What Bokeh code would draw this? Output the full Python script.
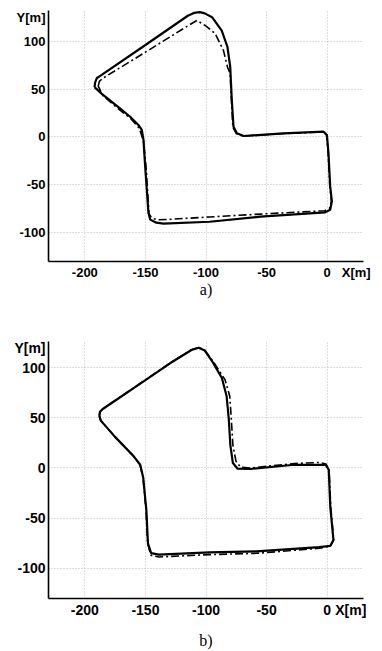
from bokeh.plotting import figure
from bokeh.models import FixedTicker, Range1d
from bokeh.layouts import column
from bokeh.embed import file_html
from bokeh.resources import INLINE

# ---- data (metres) ----
x_ticks = [-200, -150, -100, -50, 0]
y_ticks = [-100, -50, 0, 50, 100]
x_tick_labels = ["-200", "-150", "-100", "-50", "0"]
y_tick_labels = ["-100", "-50", "0", "50", "100"]

# chart a) solid (reference) path
xa_ref = [-192, -191.5, -190, -187, -150, -115, -110, -105, -101, -95, -87, -82.3, -80, -78.7,
          -77.3, -74.5, -69, -36, -3, -0.2, 1.1, 2.5, 3.9, 2.5, -1.7, -55, -97, -135, -141,
          -146, -147.5, -150.2, -151.6, -153, -155.8, -162.6, -171, -186, -192]
ya_ref = [52, 57, 61.5, 64, 96, 126.5, 129.5, 130.3, 129, 125, 111, 94, 73, 38.5,
          10.7, 3.8, 1, 3.8, 5.5, 2.1, -17, -51.6, -67.2, -75.9, -78.7, -83.2, -88.5, -90.4, -89.5,
          -86.3, -79.3, -30.9, -3.1, 7.3, 12.5, 21.1, 29.8, 45, 52]
# chart a) dash-dot (estimated) path
xa_est = [-189, -188, -185.5, -150, -114.5, -107.5, -100.7, -92.4, -85.6, -82.3, -80.1, -79,
          -77.8, -75, -69, -36, -3, -0.5, 0.8, 2.2, 3.5, 2, -2, -55, -97, -130, -140, -145,
          -147, -149.5, -151.6, -153.5, -155, -162, -171, -185, -189]
ya_est = [53, 58, 61, 88.5, 116.4, 121.6, 116.4, 107.8, 90.4, 73.1, 66.2, 38.5,
          10, 3.5, 0.8, 3.6, 5.2, 2, -17, -51.6, -67, -74.5, -77, -80.5, -83.5, -86, -86.5, -84.5,
          -80, -31, -5, 3, 9, 19, 28, 43, 53]

# chart b) solid (reference) path
xb_ref = [-188.1, -187.5, -185.5, -150, -129.7, -112, -106, -101, -94.7, -86.9, -83, -81.2,
          -79.9, -77.8, -73.9, -63.6, -27.2, -1.3, 1.3, 2.6, 5.2, 2.6, -6.5, -58.4, -97.3,
          -138.8, -145.3, -147.9, -149.2, -151.8, -154.3, -159.5, -175.1, -186.8, -188.1]
yb_ref = [52.1, 56, 58.5, 87.5, 104.3, 117.5, 119.8, 117, 105.9, 89.6, 71.7, 48.9,
          22.8, 4.9, -0.7, -1, 3.2, 3.2, -1.7, -39.1, -71.7, -77.5, -78.9, -83.1, -84.1,
          -86.3, -84.8, -75, -42.3, -9.8, 3.2, 11.4, 31, 47.2, 52.1]
# chart b) dash-dot (estimated) path
xb_est = [-188, -187.3, -185.3, -150, -129.7, -112, -106, -101, -94, -84.3, -80.4, -79.1,
          -77.8, -75.2, -71.4, -63, -27, -6.5, -1, 1.6, 3, 5.4, 2.8, -6.5, -58.4, -97.3,
          -138.8, -145.5, -148.2, -149.5, -152, -154.5, -159.5, -175, -186.8, -188]
yb_est = [52.3, 56.2, 58.7, 87.7, 104.5, 117.8, 120, 117.2, 106, 88, 71.7, 48.9,
          22.8, 6.5, 0.7, 0, 4.5, 5.5, 4, -1.7, -39, -71.5, -77.8, -80, -85, -86.3,
          -88.6, -87, -75, -42, -9.5, 3.5, 11.5, 31, 47, 52.3]

FONT = "Liberation Sans"
SERIF = "Liberation Serif"


def make_plot(xs_ref, ys_ref, xs_est, ys_est, caption, width, height, borders, y_top,
              font_px, ylab_at, xlab_at, cap_standoff):
    left, right, top, bottom = borders
    p = figure(width=width, height=height, output_backend="svg", toolbar_location=None,
               x_range=Range1d(-230, 30), y_range=Range1d(-130, y_top),
               min_border_left=left, min_border_right=right,
               min_border_top=top, min_border_bottom=bottom)
    p.outline_line_color = None
    p.background_fill_color = "white"
    p.border_fill_color = "white"

    # axis label texts sit among the tick labels, as in the original
    p.xaxis.ticker = FixedTicker(ticks=x_ticks + [xlab_at])
    p.yaxis.ticker = FixedTicker(ticks=y_ticks + [ylab_at])
    xo = dict(zip(x_ticks, x_tick_labels))
    xo[xlab_at] = "X[m]"
    yo = dict(zip(y_ticks, y_tick_labels))
    yo[ylab_at] = "Y[m]"
    p.xaxis.major_label_overrides = xo
    p.yaxis.major_label_overrides = yo

    for ax in (p.xaxis[0], p.yaxis[0]):
        ax.axis_line_color = "black"
        ax.axis_line_width = 1.6
        ax.major_tick_in = 0
        ax.major_tick_out = 0
        ax.minor_tick_line_color = None
        ax.major_label_text_font = FONT
        ax.major_label_text_font_style = "bold"
        ax.major_label_text_font_size = f"{font_px}px"
        ax.major_label_text_color = "black"
        ax.major_label_standoff = 3

    # caption ("a)" / "b)") beneath the x axis
    p.xaxis.axis_label = caption
    p.xaxis.axis_label_text_font = SERIF
    p.xaxis.axis_label_text_font_style = "normal"
    p.xaxis.axis_label_text_font_size = "16px"
    p.xaxis.axis_label_text_color = "black"
    p.xaxis.axis_label_standoff = cap_standoff

    p.xgrid.ticker = FixedTicker(ticks=x_ticks)
    p.ygrid.ticker = FixedTicker(ticks=y_ticks)
    for g in (p.xgrid[0], p.ygrid[0]):
        g.grid_line_color = "#bdbdbd"
        g.grid_line_dash = "1 2"
        g.grid_line_width = 1

    p.line(xs_ref, ys_ref, line_color="black", line_width=2.2)
    p.line(xs_est, ys_est, line_color="black", line_width=1.6, line_dash="8 3 2 3")
    return p


pa = make_plot(xa_ref, ya_ref, xa_est, ya_est, "a)", 382, 300, (48, 19, 10, 38), 132, 13,
               124.5, 24, -2)
pb = make_plot(xb_ref, yb_ref, xb_est, yb_est, "b)", 382, 351, (39, 9, 41, 48), 126, 14,
               120, 19.5, 11)

layout = column(pa, pb, spacing=0)
open("out.html", "w").write(file_html(layout, INLINE))
